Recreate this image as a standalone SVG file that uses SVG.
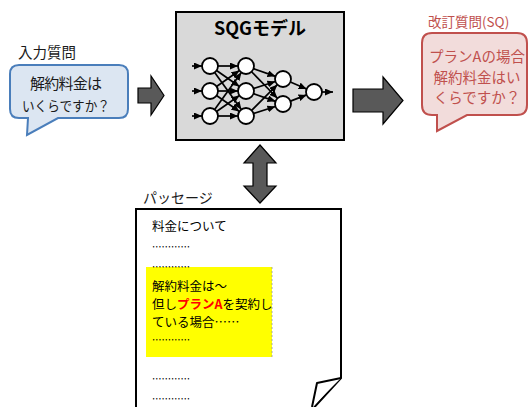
<svg xmlns="http://www.w3.org/2000/svg" width="530" height="407" viewBox="0 0 530 407">
<defs>
<marker id="ah" markerUnits="userSpaceOnUse" markerWidth="8" markerHeight="7" refX="8" refY="3.5" orient="auto"><path d="M0,0 L8,3.5 L0,7 z" fill="#000"/></marker>
<style>
text{font-family:"Noto Sans CJK JP","Noto Sans",sans-serif;}
.blk{fill:#1a1a1a;}
.red{fill:#c0504d;}
.big{fill:#595959;stroke:#000;stroke-width:1.2;}
.nn line{stroke:#000;stroke-width:1.7;marker-end:url(#ah);}
.nn circle{fill:#fff;stroke:#000;stroke-width:1.8;}
.p{font-size:12.5px;fill:#000;}
</style>
</defs>

<g id="input-question">
<text x="18" y="58" font-size="14.5" class="blk">入力質問</text>
<path d="M19,65 H119 Q128,65 128,74 V109 Q128,118 119,118 H58 L27,135 L28,118 H19 Q10,118 10,109 V74 Q10,65 19,65 Z" fill="#dce6f2" stroke="#4a7ebb" stroke-width="2"/>
<text x="66" y="89" font-size="15" text-anchor="middle" class="blk" textLength="72" lengthAdjust="spacing">解約料金は</text>
<text x="66" y="111" font-size="14" text-anchor="middle" class="blk" textLength="88" lengthAdjust="spacingAndGlyphs">いくらですか？</text>
</g>

<g id="sqg-model">
<rect x="176" y="12" width="168" height="128" fill="#d9d9d9" stroke="#000" stroke-width="2"/>
<text x="260" y="35" font-size="18" font-weight="bold" text-anchor="middle" fill="#000" textLength="92" lengthAdjust="spacing">SQGモデル</text>
<g class="nn">
<line x1="192" y1="66" x2="202" y2="66"/>
<line x1="192" y1="91" x2="202" y2="91"/>
<line x1="192" y1="116" x2="202" y2="116"/>
<line x1="218" y1="66" x2="238" y2="66"/>
<line x1="216.57" y1="70.56" x2="239.43" y2="86.44"/>
<line x1="214.67" y1="72.49" x2="241.33" y2="109.51"/>
<line x1="216.57" y1="86.44" x2="239.43" y2="70.56"/>
<line x1="218" y1="91" x2="238" y2="91"/>
<line x1="216.57" y1="95.56" x2="239.43" y2="111.44"/>
<line x1="214.67" y1="109.51" x2="241.33" y2="72.49"/>
<line x1="216.57" y1="111.44" x2="239.43" y2="95.56"/>
<line x1="218" y1="116" x2="238" y2="116"/>
<line x1="253.55" y1="68.65" x2="275.45" y2="76.35"/>
<line x1="251.58" y1="71.73" x2="277.42" y2="98.27"/>
<line x1="253.61" y1="88.53" x2="275.39" y2="81.47"/>
<line x1="253.55" y1="93.65" x2="275.45" y2="101.35"/>
<line x1="251.66" y1="110.34" x2="277.34" y2="84.66"/>
<line x1="253.61" y1="113.53" x2="275.39" y2="106.47"/>
<line x1="290.38" y1="82.09" x2="306.62" y2="88.91"/>
<line x1="290.46" y1="101.11" x2="306.54" y2="94.89"/>
<line x1="322" y1="92" x2="333" y2="92"/>
<circle cx="210" cy="66" r="8"/>
<circle cx="210" cy="91" r="8"/>
<circle cx="210" cy="116" r="8"/>
<circle cx="246" cy="66" r="8"/>
<circle cx="246" cy="91" r="8"/>
<circle cx="246" cy="116" r="8"/>
<circle cx="283" cy="79" r="8"/>
<circle cx="283" cy="104" r="8"/>
<circle cx="314" cy="92" r="8"/>
</g>
</g>

<g id="revised-question">
<text x="428" y="27" font-size="13.5" class="red">改訂質問(SQ)</text>
<path d="M432,33 H517 Q527,33 527,43 V105 Q527,115 517,115 H467 L437,131 L437,115 H432 Q422,115 422,105 V43 Q422,33 432,33 Z" fill="#f2dcdb" stroke="#c0504d" stroke-width="2"/>
<text x="477" y="62" font-size="14.5" text-anchor="middle" class="red">プランAの場合</text>
<text x="477" y="83" font-size="14.5" text-anchor="middle" class="red">解約料金はい</text>
<text x="477" y="103" font-size="14.5" text-anchor="middle" class="red">くらですか？</text>
</g>

<g id="passage">
<text x="143" y="203" font-size="14" class="blk">パッセージ</text>
<path d="M136,412 V209 H341 V378 L310,412" fill="#fff" stroke="#000" stroke-width="2"/>
<path d="M341,378 L317,383 L312,407" fill="#fff" stroke="#000" stroke-width="2" stroke-linejoin="round"/>
<text x="152" y="231" class="p">料金について</text>
<text x="152" y="252" class="p" textLength="38" lengthAdjust="spacingAndGlyphs">…………</text>
<rect x="146" y="267" width="126" height="90" fill="#ffff00"/>
<line x1="272" y1="267" x2="272" y2="357" stroke="#999" stroke-width="0.8" stroke-dasharray="2,2"/>
<text x="152" y="272" class="p" textLength="38" lengthAdjust="spacingAndGlyphs">…………</text>
<text x="152" y="291" class="p">解約料金は～</text>
<text x="152" y="309" class="p">但し<tspan fill="#ff0000" font-weight="bold">プランA</tspan>を契約し</text>
<text x="152" y="327" class="p">ている場合……</text>
<text x="152" y="345" class="p" textLength="38" lengthAdjust="spacingAndGlyphs">…………</text>
<text x="152" y="384" class="p" textLength="38" lengthAdjust="spacingAndGlyphs">…………</text>
<text x="152" y="404" class="p" textLength="38" lengthAdjust="spacingAndGlyphs">…………</text>
</g>

<g id="connectors">
<polygon class="big" points="138,88 151,88 151,76 164,95.5 151,115 151,103 138,103"/>
<polygon class="big" points="353,89 383,89 383,77 403,100.5 383,124 383,112 353,112"/>
<polygon class="big" points="260,145 276,163 267,163 267,186 276,186 260,203 244,186 253,186 253,163 244,163"/>
</g>
</svg>
